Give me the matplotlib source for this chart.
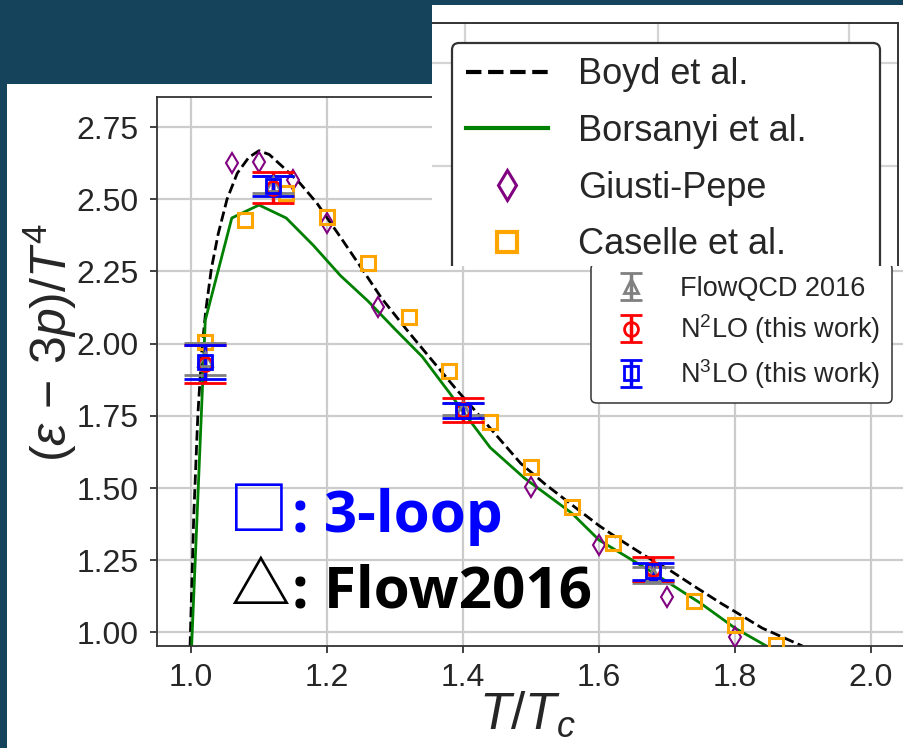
import matplotlib
matplotlib.use("Agg")
import matplotlib.pyplot as plt
from matplotlib.lines import Line2D
from matplotlib.patches import Rectangle
from matplotlib.legend_handler import HandlerErrorbar

plt.rcParams["font.family"] = ["Liberation Sans", "DejaVu Sans"]
plt.rcParams["mathtext.fontset"] = "custom"
plt.rcParams["mathtext.rm"] = "Liberation Sans"
plt.rcParams["mathtext.it"] = "Liberation Sans:italic"
plt.rcParams["mathtext.bf"] = "Liberation Sans:bold"

# Boyd et al. (dashed)
boyd_t = [0.998, 1.004, 1.010, 1.016, 1.022, 1.030, 1.040, 1.053, 1.068, 1.085,
          1.100, 1.115, 1.135, 1.160, 1.185, 1.220, 1.250, 1.280, 1.320, 1.350,
          1.390, 1.420, 1.450, 1.485, 1.520, 1.560, 1.600, 1.630, 1.670, 1.705,
          1.740, 1.780, 1.800, 1.840, 1.900]
boyd_y = [0.90, 1.40, 1.75, 1.98, 2.12, 2.26, 2.38, 2.50, 2.59, 2.645,
          2.668, 2.655, 2.612, 2.556, 2.487, 2.368, 2.264, 2.158, 2.040, 1.955,
          1.842, 1.762, 1.680, 1.585, 1.515, 1.442, 1.370, 1.322, 1.262, 1.214,
          1.160, 1.100, 1.072, 1.015, 0.952]

# Borsanyi et al. (solid green)
bors_t = [1.000, 1.021, 1.060, 1.100, 1.140, 1.180, 1.220, 1.260, 1.300, 1.340,
          1.380, 1.400, 1.440, 1.490, 1.560, 1.600, 1.680, 1.750, 1.800, 1.850]
bors_y = [0.90, 2.081, 2.435, 2.480, 2.435, 2.340, 2.235, 2.148, 2.050, 1.955,
          1.830, 1.765, 1.640, 1.535, 1.413, 1.320, 1.206, 1.100, 1.015, 0.948]

# Giusti-Pepe
gp_t = [1.06, 1.10, 1.15, 1.20, 1.275, 1.50, 1.60, 1.70, 1.80]
gp_y = [2.625, 2.630, 2.566, 2.417, 2.126, 1.504, 1.303, 1.122, 0.984]

# Caselle et al.
cs_t = [1.02, 1.08, 1.14, 1.20, 1.26, 1.32, 1.38, 1.44, 1.50, 1.56, 1.62, 1.68, 1.74, 1.80, 1.86]
cs_y = [2.005, 2.427, 2.520, 2.439, 2.279, 2.092, 1.905, 1.728, 1.572, 1.434, 1.309, 1.210, 1.108, 1.025, 0.955]

# error bar points
ev_t = [1.02, 1.12, 1.40, 1.68]
flow_y = [1.946, 2.552, 1.773, 1.198]
flow_err = [0.055, 0.030, 0.021, 0.028]
n2lo_y = [1.929, 2.540, 1.770, 1.219]
n2lo_err = [0.066, 0.054, 0.042, 0.042]
n3lo_y = [1.936, 2.545, 1.768, 1.211]
n3lo_err = [0.059, 0.035, 0.026, 0.029]

xticks = [1.0, 1.2, 1.4, 1.6, 1.8, 2.0]
yticks = [1.00, 1.25, 1.50, 1.75, 2.00, 2.25, 2.50, 2.75]

BG = "#15435b"
W, H = 904, 748


def fx(px):
    return px / W


def fy(py):
    return 1 - py / H


class SmallCaps(HandlerErrorbar):
    def create_artists(self, *args, **kwargs):
        arts = super().create_artists(*args, **kwargs)
        for a in arts:
            if isinstance(a, Line2D) and a.get_marker() == "_":
                a.set_markersize(16)
        return arts


fig = plt.figure(figsize=(W / 100, H / 100), dpi=100)
fig.patch.set_facecolor(BG)
fig.add_artist(Rectangle((fx(7), 0), 1 - fx(7), fy(84), transform=fig.transFigure,
                         facecolor="white", edgecolor="none", zorder=-5))

# main axes
ax = fig.add_axes([fx(157), fy(646), fx(905) - fx(157), fy(97) - fy(646)])
ax.set_axisbelow(True)
ax.grid(color="#cccccc", lw=1.6)
for s in ax.spines.values():
    s.set_color("#333333")
    s.set_linewidth(1.3)

ax.plot(boyd_t, boyd_y, color="black", ls="--", lw=2.0, zorder=2)
ax.plot(bors_t, bors_y, color="green", lw=2.0, zorder=2)
ax.plot(gp_t, gp_y, ls="none", marker="d", ms=10, mfc="none", mec="purple", mew=1.5, zorder=3)
ax.plot(cs_t, cs_y, ls="none", marker="s", ms=10.5, mfc="none", mec="orange", mew=2.2, zorder=3)

eb = dict(ls="none", capsize=15, capthick=3, elinewidth=2.5, mfc="none", mew=2, ms=10, zorder=4)
e1 = ax.errorbar(ev_t, flow_y, yerr=flow_err, marker="^", color="gray", **eb)
e2 = ax.errorbar(ev_t, n2lo_y, yerr=n2lo_err, marker="o", color="red", **eb)
e3 = ax.errorbar(ev_t, n3lo_y, yerr=n3lo_err, marker="s", color="blue", **eb)

ax.set_xlim(0.95, 2.05)
ax.set_ylim(0.953, 2.854)
ax.set_xticks(xticks)
ax.set_xticklabels(["%.1f" % v for v in xticks])
ax.set_yticks(yticks)
ax.set_yticklabels(["%.2f" % v for v in yticks])
ax.tick_params(labelsize=23, labelcolor="#262626", color="#333333", length=5, width=1.3)
ax.tick_params(axis="x", pad=7)
ax.tick_params(axis="y", pad=8)

ax.text(-0.143, 0.553, r"$(\varepsilon\,-\,3p)/T^4$", transform=ax.transAxes, rotation=90,
        ha="center", va="center", fontsize=36, color="#262626")
ax.text(0.495, -0.125, r"$T/T_c$", transform=ax.transAxes, ha="center", va="center",
        fontsize=37, color="#262626")

leg1 = ax.legend([e1, e2, e3], ["FlowQCD 2016", "N$^2$LO (this work)", "N$^3$LO (this work)"],
                 loc="lower right", bbox_to_anchor=((892 - 157) / 748, (646 - 403) / 549),
                 borderaxespad=0, fontsize=19.5, labelspacing=0.4, borderpad=0.45,
                 framealpha=1, edgecolor="#333333", handler_map={type(e1): SmallCaps()})
leg1.get_frame().set_linewidth(1.1)
for t in leg1.get_texts():
    t.set_color("#262626")

# overlay panel with the large legend
ax2 = fig.add_axes([fx(432), fy(266), fx(904) - fx(432), fy(5) - fy(266)], zorder=5)
ax2.set_xlim(432, 904)
ax2.set_ylim(266, 5)
ax2.set_facecolor("white")
for s in ax2.spines.values():
    s.set_visible(False)
ax2.set_xticks([])
ax2.set_yticks([])
for gx in [465, 658, 849]:
    ax2.axvline(gx, ymax=(266 - 23) / 261, color="#d4d4d4", lw=1.6)
for gy in [63, 166]:
    ax2.plot([432, 898], [gy, gy], color="#d4d4d4", lw=1.6)
ax2.plot([432, 898], [23, 23], color="#333333", lw=1.4)
ax2.plot([898, 898], [23, 266], color="#333333", lw=1.4)

handles = [
    Line2D([], [], color="black", ls="--", lw=3),
    Line2D([], [], color="green", lw=3),
    Line2D([], [], ls="none", marker="d", ms=15, mfc="none", mec="purple", mew=2.2),
    Line2D([], [], ls="none", marker="s", ms=15, mfc="none", mec="orange", mew=3),
]
labels = ["Boyd et al.", "Borsanyi et al.", "Giusti-Pepe", "Caselle et al."]
x0 = (452 - 432) / 472
top = 1 - (43 - 5) / 261
leg2 = ax2.legend(handles, labels, loc="upper left", bbox_to_anchor=(x0, 0, (880 - 452) / 472, top),
                  mode="expand", borderaxespad=0, fontsize=26, handlelength=2.25,
                  handletextpad=0.85, labelspacing=0.6, framealpha=1, edgecolor="#333333")
leg2.get_frame().set_linewidth(1.6)
leg2.legendPatch.set_clip_box(ax2.bbox)
for t in leg2.get_texts():
    t.set_color("#262626")

# slide annotations
fig.text(fx(258.5), fy(530), "\u25a1", color="blue", fontsize=43, family="Noto Sans CJK JP",
         weight="bold", ha="center", va="baseline")
fig.text(fx(292), fy(532), ": 3-loop", color="blue", fontsize=42, weight="bold",
         family=["Open Sans", "DejaVu Sans"], ha="left", va="baseline")
fig.text(fx(260), fy(605), "\u25b3", color="black", fontsize=43, family="Noto Sans CJK JP",
         weight="bold", ha="center", va="baseline")
fig.text(fx(292), fy(607), ": Flow2016", color="black", fontsize=42, weight="bold",
         family=["Open Sans", "DejaVu Sans"], ha="left", va="baseline")

fig.savefig("out.png", dpi=100, facecolor=BG)
